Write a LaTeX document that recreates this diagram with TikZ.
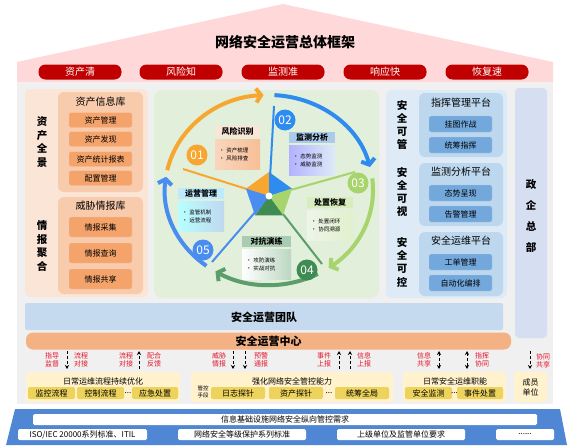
\documentclass[tikz,border=0pt]{standalone}
\usepackage{fontspec}
\setmainfont{Noto Sans CJK SC}
\usepackage{tikz}
\usetikzlibrary{arrows.meta,%
                positioning}
\definecolor{roofpink}{HTML}{FFD9D9}
\definecolor{pillred}{HTML}{C00000}
\definecolor{bggray}{HTML}{F0F0F0}
\definecolor{peachlt}{HTML}{FBE5D6}
\definecolor{peachmd}{HTML}{F8CBAD}
\definecolor{orangeit}{HTML}{F4A36B}
\definecolor{greenlt}{HTML}{E2EFDA}
\definecolor{bluelt}{HTML}{DEEBF7}
\definecolor{bluemd}{HTML}{BDD7EE}
\definecolor{blueit}{HTML}{72A8DC}
\definecolor{hqblue}{HTML}{D5DFF1}
\definecolor{teamblue}{HTML}{C6DAEF}
\definecolor{centersal}{HTML}{F4B183}
\definecolor{yellowlt}{HTML}{FFF2CC}
\definecolor{yellowit}{HTML}{EDD35C}
\definecolor{baseblue}{HTML}{4F87D4}
\definecolor{lblred}{HTML}{E3162B}
\definecolor{c1}{HTML}{F7A630}
\definecolor{c2}{HTML}{2E8CF0}
\definecolor{c3}{HTML}{A8D46E}
\definecolor{c4}{HTML}{3F8C52}
\definecolor{c5}{HTML}{4A8DF0}

\begin{document}
\begin{tikzpicture}[x=1pt,y=-1pt,
  pill/.style={rounded corners=7pt, fill=pillred, text=white, minimum width=83, minimum height=15, inner sep=0pt, font=\fontsize{10}{12}\selectfont},
  vtext/.style={align=center, inner sep=0pt, font=\bfseries\fontsize{10.5}{13.6}\selectfont},
  boxtitle/.style={inner sep=0pt, font=\fontsize{10}{12}\selectfont},
  oitem/.style={rounded corners=2pt, fill=orangeit, draw=orangeit!60!white, minimum width=63, inner sep=0pt, font=\fontsize{8}{10}\selectfont},
  bitem/.style={rounded corners=2pt, fill=blueit, draw=blueit!60!white, minimum width=63, minimum height=16, inner sep=0pt, font=\fontsize{8}{10}\selectfont},
  ctitle/.style={inner sep=0pt, minimum height=11, font=\bfseries\fontsize{8}{10}\selectfont},
  clist/.style={inner xsep=4pt, inner ysep=0pt, minimum height=30, align=left, font=\fontsize{5.5}{8}\selectfont},
  numc/.style={circle, minimum size=21, inner sep=0pt, text=white, font=\fontsize{12}{12}\selectfont},
  lbl/.style={align=center, inner sep=0pt, text=lblred, font=\fontsize{7}{8.5}\selectfont},
  darr/.style={densely dashed, line width=0.9pt, -{Stealth[length=4pt,width=4pt]}},
  dd/.style={densely dashed, line width=0.9pt, {Stealth[length=4pt,width=4pt]}-{Stealth[length=4pt,width=4pt]}},
  yitem/.style={rounded corners=2pt, fill=yellowit, minimum height=12, inner sep=0pt, font=\fontsize{8}{10}\selectfont},
  wbox/.style={fill=white, rounded corners=1.5pt, minimum height=11, inner sep=0pt, font=\fontsize{8}{10}\selectfont},
  arcline/.style={line width=4pt, -{Straight Barb[length=5pt,width=14pt]}}]
\useasboundingbox (0,0) rectangle (573,447);

\fill[roofpink] (17,62) -- (283,4) -- (553,62) -- (553,82) -- (17,82) -- cycle;
\node (title) at (285,42)[font=\bfseries\fontsize{14}{16}\selectfont]{网络安全运营总体框架};
\node (k1) at (80,72)[pill]{资产清};
\node (k2) at (181,72)[pill]{风险知};
\node (k3) at (283,72)[pill]{监测准};
\node (k4) at (385,72)[pill]{响应快};
\node (k5) at (487,72)[pill]{恢复速};

\fill[bggray] (17,82) rectangle (553,404);

\fill[peachlt, rounded corners=6pt] (25,89) rectangle (148,297);
\node (v1) at (42,142)[vtext]{资\\产\\全\\景};
\node (v2) at (42,246)[vtext]{情\\报\\聚\\合};
\fill[peachmd, rounded corners=6pt] (58,92) rectangle (143,192);
\fill[peachmd, rounded corners=6pt] (58,197) rectangle (143,294);
\node (lib1) at (100.5,102)[boxtitle]{资产信息库};
\node (o1) at (100.5,120)[oitem, minimum height=15]{资产管理};
\node (o2) at (100.5,139)[oitem, minimum height=15]{资产发现};
\node (o3) at (100.5,159)[oitem, minimum height=15]{资产统计报表};
\node (o4) at (100.5,178)[oitem, minimum height=15]{配置管理};
\node (lib2) at (100.5,206)[boxtitle]{威胁情报库};
\node (o5) at (100.5,227)[oitem, minimum height=20]{情报采集};
\node (o6) at (100.5,253)[oitem, minimum height=20]{情报查询};
\node (o7) at (100.5,279)[oitem, minimum height=20]{情报共享};

\fill[greenlt, rounded corners=8pt] (154,90) rectangle (379,298);
\begin{scope}[shift={(269,190)}, yscale=-1]
  \draw[arcline, c1] (168:104 and 95) arc[start angle=168, end angle=93, x radius=104, y radius=95];
  \draw[arcline, c2] (87:104 and 95) arc[start angle=87, end angle=14, x radius=104, y radius=95];
  \draw[arcline, c3] (7:104 and 95) arc[start angle=7, end angle=-55, x radius=104, y radius=95];
  \draw[arcline, c4!85!white] (-62:104 and 95) arc[start angle=-62, end angle=-121, x radius=104, y radius=95];
  \draw[arcline, c5] (-127:104 and 95) arc[start angle=-127, end angle=-188, x radius=104, y radius=95];
\end{scope}
\coordinate (o) at (269,196);
\coordinate (s1) at (183,169);
\coordinate (s2) at (274,106);
\coordinate (s3) at (355,172);
\coordinate (s4) at (322,264);
\coordinate (s5) at (212,262);
\draw[c1, line width=2pt] (o) -- (s1);
\draw[c2, line width=2pt] (o) -- (s2);
\draw[c3, line width=2pt] (o) -- (s3);
\draw[c4!85!white, line width=2pt] (o) -- (s4);
\draw[c5, line width=2pt] (o) -- (s5);
\coordinate (p1) at (269,172);
\coordinate (p2) at (292,188.6);
\coordinate (p3) at (283,215.4);
\coordinate (p4) at (255,215.4);
\coordinate (p5) at (246,188.6);
\fill[c1] (o) -- (p5) -- (p1) -- cycle;
\fill[c2] (o) -- (p1) -- (p2) -- cycle;
\fill[c3] (o) -- (p2) -- (p3) -- cycle;
\fill[c4] (o) -- (p3) -- (p4) -- cycle;
\fill[c5] (o) -- (p4) -- (p5) -- cycle;
\node (hub) at (o)[circle, fill=white, minimum size=7, inner sep=0pt]{};

\node (r1) at (237.5,131)[ctitle, fill=peachlt, minimum width=45]{风险识别};
\node (r1l) at (237.5,154.5)[clist, text width=37, left color=peachmd!80!white, right color=orangeit!70!white]{• 资产梳理\\• 风险排查};
\node (r2) at (312,137.5)[ctitle, fill=blueit!60!white, minimum width=46]{监测分析};
\node (r2l) at (312,160.5)[clist, text width=38, left color=blue!30!white, right color=bluelt]{• 态势监测\\• 威胁监测};
\node (r3) at (330,202)[ctitle, fill=c3!45!white, minimum width=46]{处置恢复};
\node (r3l) at (330,225)[clist, text width=38, left color=greenlt!60!white, right color=c3!35!white]{• 处置闭环\\• 协同溯源};
\node (r4) at (266.5,241.5)[ctitle, fill=c4!45!white, minimum width=49]{对抗演练};
\node (r4l) at (266.5,264)[clist, text width=41, left color=white, right color=c4!35!white]{• 攻防演练\\• 实战对抗};
\node (r5) at (201,193.5)[ctitle, fill=cyan!25!white, minimum width=46]{运营管理};
\node (r5l) at (201,216)[clist, text width=38, left color=cyan!28!white, right color=blueit!45!white]{• 监管机制\\• 运营流程};

\node (n01) at (197,155)[numc, fill=c1]{01};
\node (n02) at (285,120)[numc, fill=c2]{02};
\node (n03) at (358,183)[numc, fill=c3]{03};
\node (n04) at (307,270)[numc, fill=c4]{04};
\node (n05) at (203,250)[numc, fill=c5]{05};

\fill[bluelt, rounded corners=6pt] (386,90) rectangle (507,298);
\node (v3) at (402,125)[vtext, font=\bfseries\fontsize{10.5}{13.3}\selectfont]{安\\全\\可\\管};
\node (v4) at (402,192)[vtext, font=\bfseries\fontsize{10.5}{13.3}\selectfont]{安\\全\\可\\视};
\node (v5) at (402,262)[vtext, font=\bfseries\fontsize{10.5}{13.3}\selectfont]{安\\全\\可\\控};
\fill[bluemd, rounded corners=6pt] (419,93) rectangle (503,157);
\fill[bluemd, rounded corners=6pt] (419,163) rectangle (503,226);
\fill[bluemd, rounded corners=6pt] (419,232) rectangle (503,296);
\node (pf1) at (461,103)[boxtitle]{指挥管理平台};
\node (b1) at (460.5,124)[bitem]{挂图作战};
\node (b2) at (460.5,145)[bitem]{统筹指挥};
\node (pf2) at (461,172)[boxtitle]{监测分析平台};
\node (b3) at (460.5,193)[bitem]{态势呈现};
\node (b4) at (460.5,214)[bitem]{告警管理};
\node (pf3) at (461,241)[boxtitle]{安全运维平台};
\node (b5) at (460.5,262)[bitem]{工单管理};
\node (b6) at (460.5,283)[bitem]{自动化编排};

\fill[hqblue, rounded corners=4pt] (515,88) rectangle (547,338);
\node (hq) at (531,216)[vtext, font=\bfseries\fontsize{10.5}{20.7}\selectfont]{政\\企\\总\\部};

\fill[teamblue, rounded corners=2pt] (25,303) rectangle (503,330);
\node (team) at (264,317)[font=\bfseries\fontsize{11}{13}\selectfont]{安全运营团队};
\node (soc) at (268.5,341)[rounded corners=7pt, fill=centersal, minimum width=485, minimum height=17, inner sep=0pt, font=\bfseries\fontsize{11}{13}\selectfont]{安全运营中心};

\node (l1) at (52,360)[lbl]{指导\\监督};
\node (l2) at (81,360)[lbl]{流程\\对接};
\node (l3) at (126,360)[lbl]{流程\\对接};
\node (l4) at (154,360)[lbl]{配合\\反馈};
\node (l5) at (219,360)[lbl]{威胁\\情报};
\node (l6) at (261,360)[lbl]{预警\\通报};
\node (l7) at (324,360)[lbl]{事件\\上报};
\node (l8) at (364,360)[lbl]{信息\\上报};
\node (l9) at (424,360)[lbl]{信息\\共享};
\node (l10) at (482,360)[lbl]{指挥\\协同};
\node (l11) at (543,361)[lbl]{协同\\共享};
\coordinate (a1t) at (67,351);  \coordinate (a1b) at (67,369);
\coordinate (a2t) at (139,351); \coordinate (a2b) at (139,369);
\coordinate (a3t) at (233,351); \coordinate (a3b) at (233,369);
\coordinate (a4t) at (245,351); \coordinate (a4b) at (245,369);
\coordinate (a5t) at (339,351); \coordinate (a5b) at (339,369);
\coordinate (a6t) at (350,351); \coordinate (a6b) at (350,369);
\coordinate (a7t) at (439,351); \coordinate (a7b) at (439,369);
\coordinate (a8t) at (467,351); \coordinate (a8b) at (467,369);
\coordinate (a9t) at (530,351); \coordinate (a9b) at (530,369);
\draw[darr] (a1t) -- (a1b);
\draw[darr] (a2b) -- (a2t);
\draw[darr] (a3t) -- (a3b);
\draw[darr] (a4t) -- (a4b);
\draw[darr] (a5b) -- (a5t);
\draw[darr] (a6b) -- (a6t);
\draw[dd] (a7t) -- (a7b);
\draw[dd] (a8t) -- (a8b);
\draw[darr] (a9t) -- (a9b);

\fill[yellowlt, rounded corners=3pt] (26,372) rectangle (180,402);
\node (y1) at (103,381)[font=\fontsize{8}{10}\selectfont]{日常运维流程持续优化};
\node (y1a) at (51.5,393)[yitem, minimum width=47]{监控流程};
\node (y1b) at (100.5,393)[yitem, minimum width=47]{控制流程};
\node (y1c) at (128,393)[font=\fontsize{8}{10}\selectfont, inner sep=0pt]{...};
\node (y1d) at (155,393)[yitem, minimum width=46]{应急处置};
\fill[yellowlt, rounded corners=3pt] (191,372) rectangle (393,402);
\node (y2) at (292,381)[font=\fontsize{8}{10}\selectfont]{强化网络安全管控能力};
\node (y2m) at (203,392)[align=center, inner sep=0pt, font=\fontsize{5.5}{7}\selectfont]{管控\\手段};
\node (y2a) at (238,393)[yitem, minimum width=54]{日志探针};
\node (y2b) at (296,393)[yitem, minimum width=54]{资产探针};
\node (y2c) at (329,393)[font=\fontsize{8}{10}\selectfont, inner sep=0pt]{...};
\node (y2d) at (362,393)[yitem, minimum width=54]{统筹全局};
\fill[yellowlt, rounded corners=3pt] (403,372) rectangle (506,402);
\node (y3) at (455,381)[font=\fontsize{8}{10}\selectfont]{日常安全运维职能};
\node (y3a) at (428.5,393)[yitem, minimum width=47]{安全监测};
\node (y3c) at (454.5,393)[font=\fontsize{8}{10}\selectfont, inner sep=0pt]{...};
\node (y3d) at (480,393)[yitem, minimum width=46]{事件处置};
\fill[yellowlt, rounded corners=3pt] (514,372) rectangle (547,402);
\node (y4) at (530.5,387)[align=center, inner sep=0pt, font=\fontsize{8}{10}\selectfont]{成员\\单位};

\fill[baseblue] (15,409) -- (560,409) -- (567,445) -- (6,445) -- cycle;
\node (req) at (285,419.5)[wbox, minimum width=504]{信息基础设施网络安全纵向管控需求};
\node (w1) at (82.5,434.5)[wbox, minimum width=129]{ISO/IEC 20000系列标准、ITIL};
\node (w2) at (242,434.5)[wbox, minimum width=128]{网络安全等级保护系列标准};
\node (w3) at (401,434.5)[wbox, minimum width=128]{上级单位及监管单位要求};
\node (w4) at (525,434.5)[wbox, minimum width=58]{......};
\end{tikzpicture}
\end{document}
